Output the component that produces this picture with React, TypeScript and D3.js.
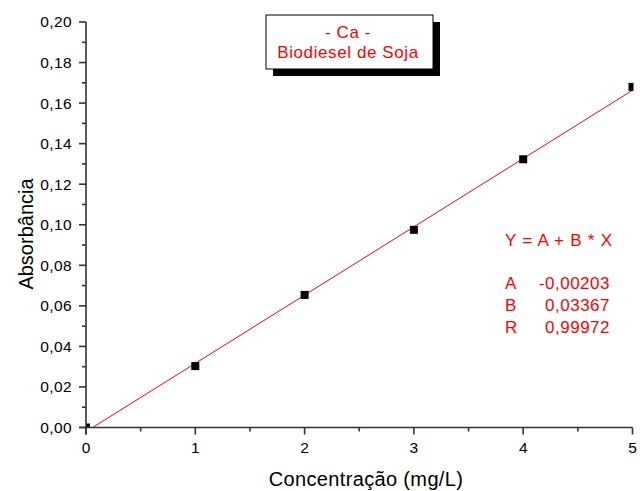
import React from "react";
import * as d3 from "d3";

const concentrations = [0, 1, 2, 3, 4, 5];
const absorbances = [0.0, 0.0303, 0.0654, 0.0975, 0.1323, 0.168];
const fitA = -0.00203;
const fitB = 0.03367;
const xTicks = [0, 1, 2, 3, 4, 5];
const yTicks = [0, 0.02, 0.04, 0.06, 0.08, 0.1, 0.12, 0.14, 0.16, 0.18, 0.2];
const titleLines = ["- Ca -", "Biodiesel de Soja"];
const eqLines = [
  ["A", "-0,00203"],
  ["B", "0,03367"],
  ["R", "0,99972"],
];

export default function App() {
  const W = 640, H = 491;
  const left = 86, right = 632.5, top = 22, bottom = 427.5;
  const x = d3.scaleLinear().domain([0, 5]).range([left, right]);
  const y = d3.scaleLinear().domain([0, 0.2]).range([bottom, top]);
  const fmtY = (v: number) => v.toFixed(2).replace(".", ",");
  const minorX = d3.range(0.5, 5, 1);
  const minorY = d3.range(0.01, 0.2, 0.02);
  const font = "Liberation Sans, Arial, sans-serif";
  const line = d3.line<number>().x((d) => x(d)).y((d) => y(fitA + fitB * d));
  const red = "#ff0000";
  const axisColor = "#333";
  return (
    <svg width={W} height={H} style={{ position: "absolute", left: 0, top: 0, background: "#fff" }} fontFamily={font}>
      <defs>
        <clipPath id="plot">
          <rect x={left} y={top - 6} width={right - left + 1} height={bottom - top + 6} />
        </clipPath>
      </defs>
      {/* fit line */}
      <path d={line([0, 5]) || ""} stroke={red} strokeWidth={1} fill="none" clipPath="url(#plot)" />
      {/* points */}
      <g clipPath="url(#plot)">
        {concentrations.map((c, i) => (
          <rect key={i} x={x(c) - 4} y={y(absorbances[i]) - 4} width={8} height={8} fill="#000" />
        ))}
      </g>
      {/* axes */}
      <line x1={left} x2={left} y1={top} y2={bottom + 7} stroke={axisColor} strokeWidth={1.6} />
      <line x1={left - 7} x2={right} y1={bottom} y2={bottom} stroke={axisColor} strokeWidth={1.6} />
      {yTicks.map((t) => (
        <g key={"y" + t}>
          <line x1={left - 7} x2={left} y1={y(t)} y2={y(t)} stroke={axisColor} strokeWidth={1.6} />
          <text x={left - 14} y={y(t)} dy="0.35em" textAnchor="end" fontSize={15.5} letterSpacing={0.4}>
            {fmtY(t)}
          </text>
        </g>
      ))}
      {minorY.map((t) => (
        <line key={"my" + t} x1={left - 4} x2={left} y1={y(t)} y2={y(t)} stroke={axisColor} strokeWidth={1.6} />
      ))}
      {xTicks.map((t) => (
        <g key={"x" + t}>
          <line x1={x(t)} x2={x(t)} y1={bottom} y2={bottom + 7} stroke={axisColor} strokeWidth={1.6} />
          <text x={x(t)} y={bottom + 20} dy="0.35em" textAnchor="middle" fontSize={15.5}>
            {t}
          </text>
        </g>
      ))}
      {minorX.map((t) => (
        <line key={"mx" + t} x1={x(t)} x2={x(t)} y1={bottom} y2={bottom + 4} stroke={axisColor} strokeWidth={1.6} />
      ))}
      {/* axis labels */}
      <text x={366} y={486} textAnchor="middle" fontSize={20} letterSpacing={0.35}>
        Concentração (mg/L)
      </text>
      <text transform="translate(33,234) rotate(-90)" textAnchor="middle" fontSize={20}>
        Absorbância
      </text>
      {/* title box */}
      <rect x={273} y={22} width={167} height={54} fill="#000" />
      <rect x={266} y={15} width={167} height={54} fill="#fff" stroke="#000" strokeWidth={1} />
      {titleLines.map((s, i) => (
        <text key={s} x={348} y={32 + i * 20} dy="0.35em" textAnchor="middle" fontSize={17} letterSpacing={0.6} fill={red}>
          {s}
        </text>
      ))}
      {/* equation */}
      <text x={505} y={240} dy="0.35em" fontSize={17} letterSpacing={0.75} fill={red}>
        Y = A + B * X
      </text>
      {eqLines.map(([k, v], i) => (
        <g key={k}>
          <text x={505} y={283 + i * 22} dy="0.35em" fontSize={17} fill={red}>
            {k}
          </text>
          <text x={610} y={283 + i * 22} dy="0.35em" fontSize={17} letterSpacing={0.5} fill={red} textAnchor="end">
            {v}
          </text>
        </g>
      ))}
    </svg>
  );
}
